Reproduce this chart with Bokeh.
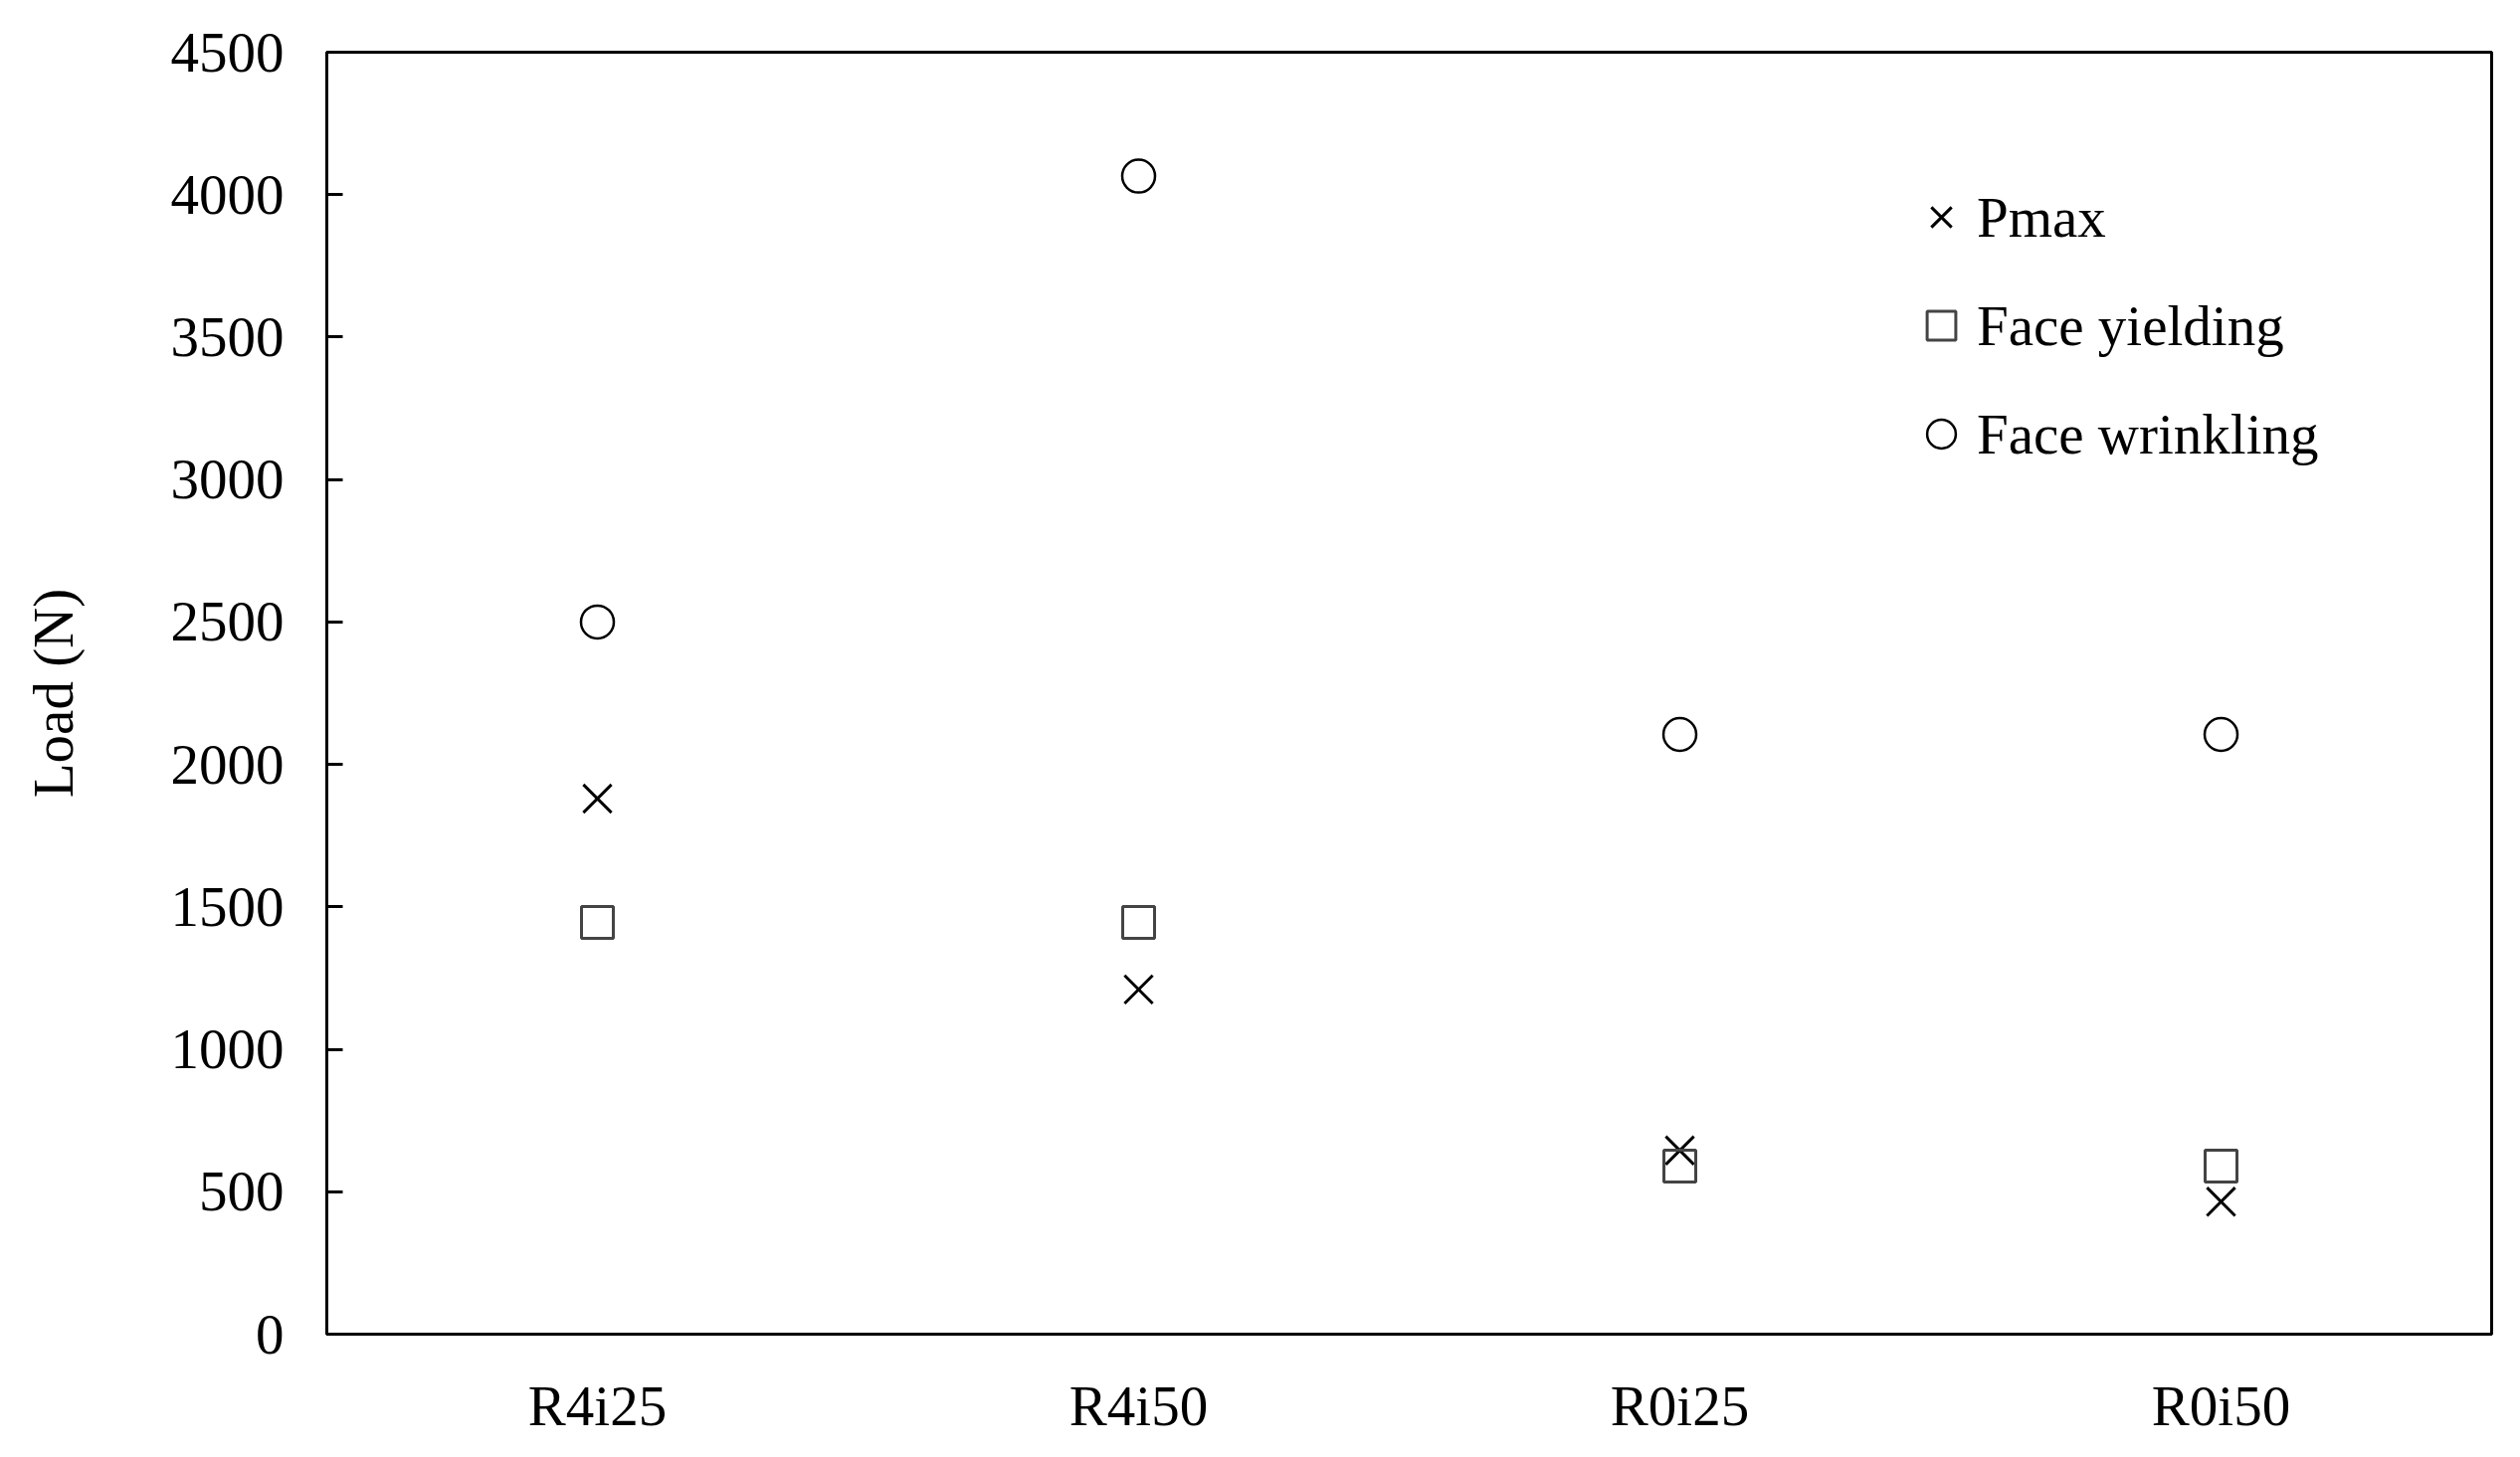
from bokeh.plotting import figure
from bokeh.models import FactorRange, Range1d, Legend, LegendItem, FixedTicker, ColumnDataSource
from bokeh.embed import file_html
from bokeh.resources import INLINE

categories = ["R4i25", "R4i50", "R0i25", "R0i50"]
pmax = [1880, 1210, 645, 465]
face_yielding = [1445, 1445, 590, 590]
face_wrinkling = [2500, 4065, 2105, 2105]
y_ticks = [0, 500, 1000, 1500, 2000, 2500, 3000, 3500, 4000, 4500]

FONT = "Liberation Serif"
FS = "57px"

p = figure(x_range=FactorRange(*categories), y_range=Range1d(0, 4500),
           width=2517, height=1449, output_backend="svg", toolbar_location=None,
           min_border_left=328, min_border_right=13, min_border_top=52, min_border_bottom=108)

src = ColumnDataSource(dict(cat=categories, pmax=pmax, fy=face_yielding, fw=face_wrinkling))

r1 = p.scatter("cat", "pmax", source=src, marker="x", size=40, line_color="black", line_width=3)
r2 = p.scatter("cat", "fy", source=src, marker="square", size=32, line_color="#444444",
               fill_color=None, line_width=3)
r3 = p.scatter("cat", "fw", source=src, marker="circle", size=33, line_color="black",
               fill_color=None, line_width=2.5)

p.xgrid.visible = False
p.ygrid.visible = False
p.outline_line_color = "black"
p.outline_line_width = 3
p.outline_line_alpha = 1

p.yaxis.ticker = FixedTicker(ticks=y_ticks)
p.yaxis.minor_tick_line_color = None
p.yaxis.major_tick_in = 16
p.yaxis.major_tick_out = 0
p.yaxis.major_tick_line_width = 3
p.yaxis.axis_line_width = 3
p.yaxis.major_label_standoff = 43
p.yaxis.axis_label = "Load (N)"
p.yaxis.axis_label_standoff = 84
p.yaxis.axis_label_text_font_style = "normal"

p.xaxis.major_tick_line_color = None
p.xaxis.minor_tick_line_color = None
p.xaxis.axis_line_width = 3
p.xaxis.major_label_standoff = 34

for ax in [p.xaxis[0], p.yaxis[0]]:
    ax.major_label_text_font = FONT
    ax.major_label_text_font_size = FS
    ax.major_label_text_color = "black"
    ax.axis_label_text_font = FONT
    ax.axis_label_text_font_size = FS
    ax.axis_label_text_color = "black"
    ax.axis_line_color = "black"
p.yaxis.major_tick_line_color = "black"
p.xaxis.major_tick_line_color = None

legend = Legend(items=[LegendItem(label="Pmax", renderers=[r1]),
                       LegendItem(label="Face yielding", renderers=[r2]),
                       LegendItem(label="Face wrinkling", renderers=[r3])],
                location=(1587, 862), border_line_color=None, background_fill_alpha=0,
                label_text_font=FONT, label_text_font_size=FS, label_text_color="black",
                glyph_width=72, glyph_height=86, label_standoff=0, spacing=23,
                padding=0, margin=0)
p.add_layout(legend, "center")

open("out.html", "w").write(file_html(p, INLINE))
